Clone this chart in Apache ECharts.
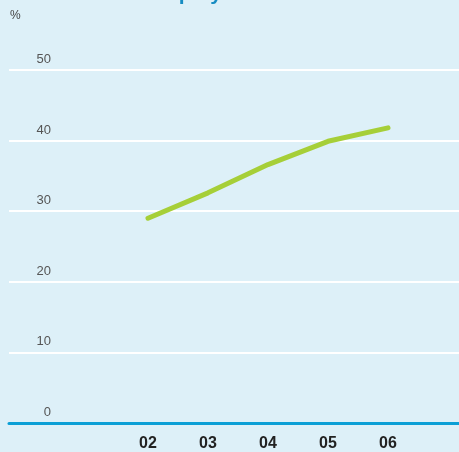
<!DOCTYPE html>
<html>
<head>
<meta charset="utf-8">
<script src="https://cdn.jsdelivr.net/npm/echarts@6/dist/echarts.min.js"></script>
<style>
html, body { margin: 0; padding: 0; background: #ddf0f8; }
#chart { width: 459px; height: 452px; }
</style>
</head>
<body>
<div id="chart"></div>
<script>
var years = ['02', '03', '04', '05', '06'];
var equityRatio = [29.0, 32.6, 36.6, 39.9, 41.8];
var yTicks = [0, 10, 20, 30, 40, 50];

var chart = echarts.init(document.getElementById('chart'));

var points = [];
for (var i = 0; i < years.length; i++) {
	points.push([i, equityRatio[i]]);
}

var option = {
	backgroundColor: '#ddf0f8',
	animation: false,
	title: {
		text: "Shareholders' equity ratio",
		left: 10,
		top: -21,
		textStyle: {
			fontFamily: 'Liberation Sans',
			fontWeight: 'bold',
			fontSize: 21,
			color: '#168cc2'
		}
	},
	graphic: [{
		type: 'text',
		left: 10,
		top: 10,
		style: {
			text: '%',
			font: '12px "Liberation Sans"',
			fill: '#444'
		}
	}],
	grid: {
		left: 9,
		right: 0,
		top: 70,
		bottom: 23
	},
	xAxis: {
		type: 'value',
		min: -2.3167,
		max: 5.1833,
		splitLine: { show: false },
		axisTick: { show: false },
		axisLine: {
			show: true,
			lineStyle: { color: '#0a9fd6', width: 3 }
		},
		axisLabel: {
			customValues: [0, 1, 2, 3, 4],
			margin: 13,
			fontFamily: 'Liberation Sans',
			fontWeight: 'bold',
			fontSize: 16,
			color: '#222',
			formatter: function(v) {
				return years[Math.round(v)];
			}
		}
	},
	yAxis: {
		type: 'value',
		min: 0,
		max: 50,
		interval: 10,
		axisLine: { show: false },
		axisTick: { show: false },
		splitLine: {
			lineStyle: { color: '#ffffff', width: 2 }
		},
		axisLabel: {
			customValues: yTicks,
			margin: -42,
			align: 'right',
			verticalAlign: 'bottom',
			padding: [0, 0, 4, 0],
			fontFamily: 'Liberation Sans',
			fontSize: 13,
			color: '#555'
		}
	},
	series: [{
		type: 'line',
		data: points,
		symbol: 'none',
		lineStyle: { color: '#a6cf38', width: 5, cap: 'round' }
	}]
};

chart.setOption(option);
</script>
</body>
</html>
